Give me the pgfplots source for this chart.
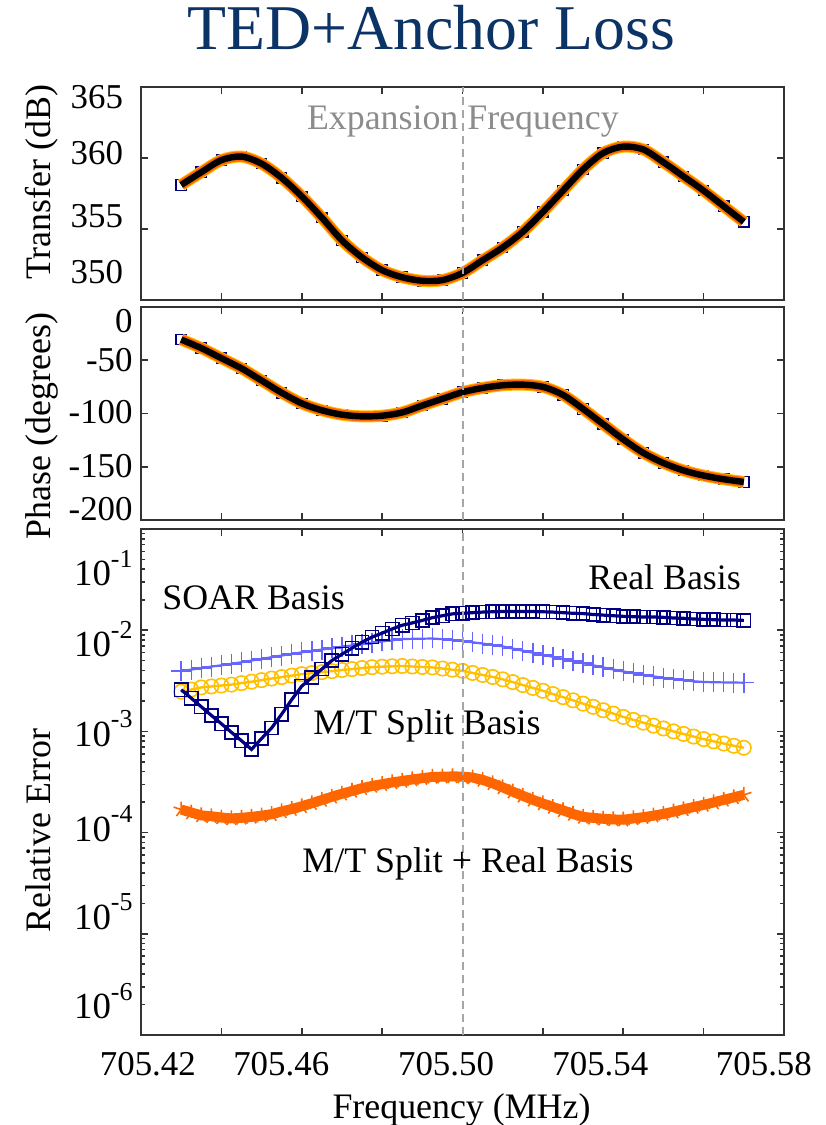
\documentclass[border=0pt]{standalone}
\usepackage{pgfplots}
\pgfplotsset{compat=1.18}
\usepackage{pgfplotstable}
\usepackage{fontspec}
\setmainfont{Liberation Serif}
\definecolor{navyS}{RGB}{0,0,128}
\definecolor{lblue}{RGB}{102,102,255}
\definecolor{goldS}{RGB}{255,192,0}
\definecolor{orangeS}{RGB}{255,102,0}
\definecolor{titleblue}{RGB}{12,51,102}
\definecolor{grayT}{RGB}{140,140,140}
\definecolor{dashgray}{RGB}{165,165,170}
\newcommand{\tenexp}[1]{10\raisebox{0.5em}{\fontsize{13}{13}\selectfont #1}}

% f = frequency offset in kHz from 705.42 MHz
\pgfplotstableread{
f T P
10 358.1 -30.6
15 359.0 -38.6
20 359.85 -48.1
25 360.1 -57.6
30 359.6 -69.0
35 358.6 -80.5
40 357.3 -90.5
45 355.8 -97.0
50 354.2 -101.1
55 353.0 -102.7
60 352.1 -102.1
65 351.6 -99.0
70 351.35 -92.5
75 351.4 -86.2
80 351.9 -80.0
85 352.8 -76.0
90 353.7 -73.5
95 354.8 -72.9
100 356.2 -75.0
105 357.7 -82.5
110 359.2 -95.7
115 360.35 -110.0
120 360.8 -124.3
125 360.6 -137.0
130 359.7 -146.5
135 358.7 -153.5
140 357.7 -158.3
145 356.6 -161.7
150 355.5 -164.3
}\toptab

\pgfplotstableread{
f sq pl ci st
10 2.58e-3 3.95e-3 2.47e-3 1.69e-4
12.5 2.13e-3 4.08e-3 2.59e-3 1.58e-4
15 1.75e-3 4.22e-3 2.72e-3 1.48e-4
17.5 1.44e-3 4.37e-3 2.78e-3 1.45e-4
20 1.19e-3 4.50e-3 2.84e-3 1.41e-4
22.5 9.79e-4 4.65e-3 2.90e-3 1.38e-4
25 8.09e-4 4.82e-3 3.00e-3 1.40e-4
27.5 6.64e-4 5.01e-3 3.10e-3 1.43e-4
30 8.51e-4 5.21e-3 3.21e-3 1.47e-4
32.5 1.08e-3 5.41e-3 3.33e-3 1.52e-4
35 1.48e-3 5.62e-3 3.44e-3 1.62e-4
37.5 2.06e-3 5.82e-3 3.56e-3 1.71e-4
40 2.80e-3 6.04e-3 3.68e-3 1.82e-4
42.5 3.40e-3 6.24e-3 3.77e-3 1.95e-4
45 4.13e-3 6.44e-3 3.85e-3 2.10e-4
47.5 5.02e-3 6.65e-3 3.94e-3 2.26e-4
50 5.79e-3 6.87e-3 4.04e-3 2.42e-4
52.5 6.65e-3 7.08e-3 4.13e-3 2.58e-4
55 7.62e-3 7.31e-3 4.23e-3 2.75e-4
57.5 8.55e-3 7.53e-3 4.31e-3 2.89e-4
60 9.35e-3 7.74e-3 4.36e-3 3.01e-4
62.5 1.03e-2 7.96e-3 4.40e-3 3.13e-4
65 1.12e-2 8.17e-3 4.43e-3 3.24e-4
67.5 1.18e-2 8.22e-3 4.38e-3 3.35e-4
70 1.25e-2 8.24e-3 4.33e-3 3.45e-4
72.5 1.33e-2 8.28e-3 4.29e-3 3.55e-4
75 1.39e-2 8.15e-3 4.18e-3 3.57e-4
77.5 1.45e-2 8.00e-3 4.07e-3 3.59e-4
80 1.47e-2 7.85e-3 3.97e-3 3.58e-4
82.5 1.49e-2 7.60e-3 3.78e-3 3.50e-4
85 1.51e-2 7.38e-3 3.61e-3 3.32e-4
87.5 1.52e-2 7.14e-3 3.45e-3 3.07e-4
90 1.53e-2 6.92e-3 3.27e-3 2.80e-4
92.5 1.53e-2 6.59e-3 3.07e-3 2.54e-4
95 1.53e-2 6.28e-3 2.87e-3 2.31e-4
97.5 1.53e-2 6.00e-3 2.69e-3 2.11e-4
100 1.52e-2 5.71e-3 2.52e-3 1.94e-4
102.5 1.51e-2 5.46e-3 2.34e-3 1.79e-4
105 1.49e-2 5.20e-3 2.18e-3 1.66e-4
107.5 1.47e-2 4.95e-3 2.03e-3 1.53e-4
110 1.46e-2 4.72e-3 1.88e-3 1.43e-4
112.5 1.43e-2 4.50e-3 1.75e-3 1.40e-4
115 1.41e-2 4.29e-3 1.62e-3 1.37e-4
117.5 1.39e-2 4.09e-3 1.50e-3 1.35e-4
120 1.37e-2 3.91e-3 1.39e-3 1.34e-4
122.5 1.36e-2 3.77e-3 1.30e-3 1.38e-4
125 1.35e-2 3.62e-3 1.22e-3 1.42e-4
127.5 1.35e-2 3.50e-3 1.14e-3 1.47e-4
130 1.34e-2 3.38e-3 1.07e-3 1.53e-4
132.5 1.32e-2 3.30e-3 1.00e-3 1.61e-4
135 1.31e-2 3.21e-3 9.44e-4 1.70e-4
137.5 1.29e-2 3.13e-3 8.89e-4 1.79e-4
140 1.28e-2 3.08e-3 8.39e-4 1.88e-4
142.5 1.27e-2 3.06e-3 7.98e-4 1.99e-4
145 1.26e-2 3.05e-3 7.59e-4 2.11e-4
147.5 1.26e-2 3.04e-3 7.21e-4 2.23e-4
150 1.25e-2 3.03e-3 6.89e-4 2.36e-4
}\errtab

\pgfplotsset{
  panel/.style={
    scale only axis, width=321.5bp, anchor=south west,
    clip mode=individual,
    xmin=0, xmax=160, xtick={0,20,...,160}, xticklabels={},
    axis line style={black!80, line width=0.9bp},
    tick style={black!80, line width=0.8bp},
    major tick length=3.5bp, minor tick length=2bp,
    tick label style={font=\fontsize{17.5}{20}\selectfont},
    yticklabels={},
    extra y tick style={major tick length=0pt, tick style={draw=none}},
    extra x tick style={major tick length=0pt, tick style={draw=none}},
  },
}

\begin{document}
\begin{tikzpicture}
\useasboundingbox (0,0) rectangle (413bp,562.5bp);

% ---------- Transfer ----------
\begin{axis}[panel, at={(70.5bp,412.5bp)}, height=106.5bp,
  ymin=350, ymax=365, ytick={350,355,360,365},
  extra y ticks={351.97,355.9,360.35,364.3},
  extra y tick labels={350,355,360,365},
  yticklabel style={xshift=-5.5bp}]
\addplot[navyS, only marks, mark=square, mark size=2.6bp, mark options={line width=0.6bp}] table[x=f,y=T]{\toptab};
\addplot[goldS, line width=6bp, smooth] table[x=f,y=T]{\toptab};
\addplot[orangeS, line width=5bp, smooth] table[x=f,y=T]{\toptab};
\addplot[black, line width=3.2bp, smooth] table[x=f,y=T]{\toptab};
\addplot[dashgray, line width=1bp, dash pattern=on 4bp off 2.5bp] coordinates {(80,350) (80,365)};
\end{axis}

% ---------- Phase ----------
\begin{axis}[panel, at={(70.5bp,302.5bp)}, height=106.5bp,
  ymin=-200, ymax=0, ytick={-200,-150,-100,-50,0},
  extra y ticks={-190,-149.7,-98.6,-49.7,-12.9},
  extra y tick labels={-200,-150,-100,-50,0},
  yticklabel style={xshift=-0.7bp}]
\addplot[navyS, only marks, mark=square, mark size=2.6bp, mark options={line width=0.6bp}] table[x=f,y=P]{\toptab};
\addplot[goldS, line width=6bp, smooth] table[x=f,y=P]{\toptab};
\addplot[orangeS, line width=5bp, smooth] table[x=f,y=P]{\toptab};
\addplot[black, line width=3.2bp, smooth] table[x=f,y=P]{\toptab};
\addplot[dashgray, line width=1bp, dash pattern=on 4bp off 2.5bp] coordinates {(80,-200) (80,0)};
\end{axis}

% ---------- Relative error ----------
\begin{axis}[panel, at={(70.5bp,45bp)}, height=253bp,
  ymode=log, ymin=1e-6, ymax=1e-1,
  ytick={1e-6,1e-5,1e-4,1e-3,1e-2,1e-1},
  minor ytick={2e-6,3e-6,4e-6,5e-6,6e-6,7e-6,8e-6,9e-6,
               2e-5,3e-5,4e-5,5e-5,6e-5,7e-5,8e-5,9e-5,
               2e-4,3e-4,4e-4,5e-4,6e-4,7e-4,8e-4,9e-4,
               2e-3,3e-3,4e-3,5e-3,6e-3,7e-3,8e-3,9e-3,
               2e-2,3e-2,4e-2,5e-2,6e-2,7e-2,8e-2,9e-2},
  extra y ticks={2.17e-6,1.65e-5,1.23e-4,1.07e-3,8.15e-3,4.11e-2},
  extra y tick labels={\tenexp{-6},\tenexp{-5},\tenexp{-4},\tenexp{-3},\tenexp{-2},\tenexp{-1}},
  yticklabel style={xshift=-0.7bp, font=\fontsize{18.5}{20}\selectfont},
  extra x ticks={1.7,34.9,75.9,114.3,155},
  extra x tick labels={705.42,705.46,705.50,705.54,705.58},
  xticklabel style={yshift=-5bp}]
\addplot[lblue, line width=1.1bp, mark=+, mark size=5bp, mark options={line width=0.7bp}] table[x=f,y=pl]{\errtab};
\addplot[goldS, line width=1.2bp, mark=o, mark size=3.6bp, mark options={line width=0.8bp}] table[x=f,y=ci]{\errtab};
\addplot[orangeS, line width=5bp, mark=star, mark size=4bp, mark options={line width=0.8bp}] table[x=f,y=st]{\errtab};
\addplot[navyS, line width=1.6bp, mark=square, mark size=3.3bp, mark options={line width=0.8bp}] table[x=f,y=sq]{\errtab};
\addplot[dashgray, line width=1bp, dash pattern=on 4bp off 2.5bp] coordinates {(80,1e-6) (80,1e-1)};
\end{axis}

% ---------- texts ----------
\node[anchor=base, text=titleblue, font=\fontsize{32}{36}\selectfont, inner sep=0pt] at (215.75bp,537.5bp) {TED+Anchor Loss};
\node[anchor=base west, text=grayT, font=\fontsize{18}{21}\selectfont, inner sep=0pt] at (153.3bp,497.5bp) {Expansion Frequency};
\node[anchor=base, rotate=90, font=\fontsize{18}{21}\selectfont, inner sep=0pt] at (25bp,471.25bp) {Transfer (dB)};
\node[anchor=base, rotate=90, font=\fontsize{18}{21}\selectfont, inner sep=0pt] at (25bp,349.5bp) {Phase (degrees)};
\node[anchor=base, rotate=90, font=\fontsize{18}{21}\selectfont, inner sep=0pt] at (25bp,147.25bp) {Relative Error};
\node[anchor=base, font=\fontsize{18}{21}\selectfont, inner sep=0pt] at (230.75bp,3.5bp) {Frequency (MHz)};
\node[anchor=base west, font=\fontsize{18}{21}\selectfont, inner sep=0pt] at (81bp,257.5bp) {SOAR Basis};
\node[anchor=base west, font=\fontsize{18}{21}\selectfont, inner sep=0pt] at (294bp,267.5bp) {Real Basis};
\node[anchor=base west, font=\fontsize{18}{21}\selectfont, inner sep=0pt] at (156.5bp,195bp) {M/T Split Basis};
\node[anchor=base west, font=\fontsize{18}{21}\selectfont, inner sep=0pt] at (151bp,126bp) {M/T Split + Real Basis};
\end{tikzpicture}
\end{document}
